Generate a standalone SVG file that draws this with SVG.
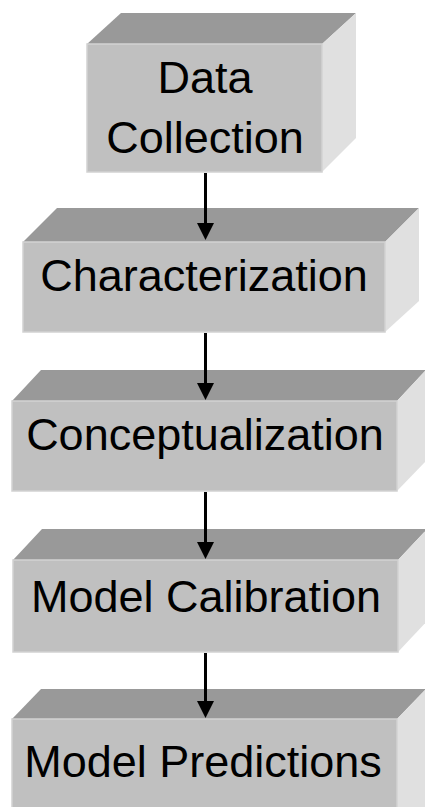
<svg xmlns="http://www.w3.org/2000/svg" width="425" height="807" viewBox="0 0 425 807">
<style>
.top{fill:#999999}
.front{fill:#c0c0c0;stroke:#d2d2d2;stroke-width:1.5}
.side{fill:#e0e0e0}
.lbl{font-family:"Liberation Sans",Arial,sans-serif;font-size:45px;fill:#000;text-anchor:middle}
.conn{stroke:#000;stroke-width:3;fill:none;marker-end:url(#ah)}
</style>
<defs>
<marker id="ah" viewBox="0 0 17 17" refX="9" refY="8.5" markerWidth="17" markerHeight="17" markerUnits="userSpaceOnUse" orient="auto">
<path d="M0,0 L17,8.5 L0,17 z" fill="#000"/>
</marker>
</defs>
<rect width="425" height="807" fill="#ffffff"/>
<g id="node-data-collection">
<polygon class="top" points="87,44 121,13 356,13 322,44"/>
<polygon class="side" points="322,44 356,13 356,138 322,172"/>
<rect class="front" x="87" y="44" width="235" height="128"/>
<text class="lbl" x="205" y="93">Data</text>
<text class="lbl" x="205" y="153">Collection</text>
</g>
<g id="node-characterization">
<polygon class="top" points="23,242 57,208 419,208 385,242"/>
<polygon class="side" points="385,242 419,208 419,301 385,332"/>
<rect class="front" x="23" y="242" width="362" height="90"/>
<text class="lbl" x="204" y="291">Characterization</text>
</g>
<g id="node-conceptualization">
<polygon class="top" points="12,401 41,370 426,370 397,401"/>
<polygon class="side" points="397,401 426,370 426,461 397,491"/>
<rect class="front" x="12" y="401" width="385" height="90"/>
<text class="lbl" x="205" y="450">Conceptualization</text>
</g>
<g id="node-model-calibration">
<polygon class="top" points="13,560 42,529 427,529 398,560"/>
<polygon class="side" points="398,560 427,529 427,621 398,652"/>
<rect class="front" x="13" y="560" width="385" height="92"/>
<text class="lbl" x="206" y="612">Model Calibration</text>
</g>
<g id="node-model-predictions">
<polygon class="top" points="12,719 41,689 426,689 397,719"/>
<polygon class="side" points="397,719 426,689 426,810 397,810"/>
<rect class="front" x="12" y="719" width="385" height="95"/>
<text class="lbl" x="203" y="777">Model Predictions</text>
</g>
<g id="connectors">
<line class="conn" x1="205.5" y1="173" x2="205.5" y2="232"/>
<line class="conn" x1="205.5" y1="333" x2="205.5" y2="392"/>
<line class="conn" x1="205.5" y1="492" x2="205.5" y2="551"/>
<line class="conn" x1="205.5" y1="653" x2="205.5" y2="710"/>
</g>
</svg>
